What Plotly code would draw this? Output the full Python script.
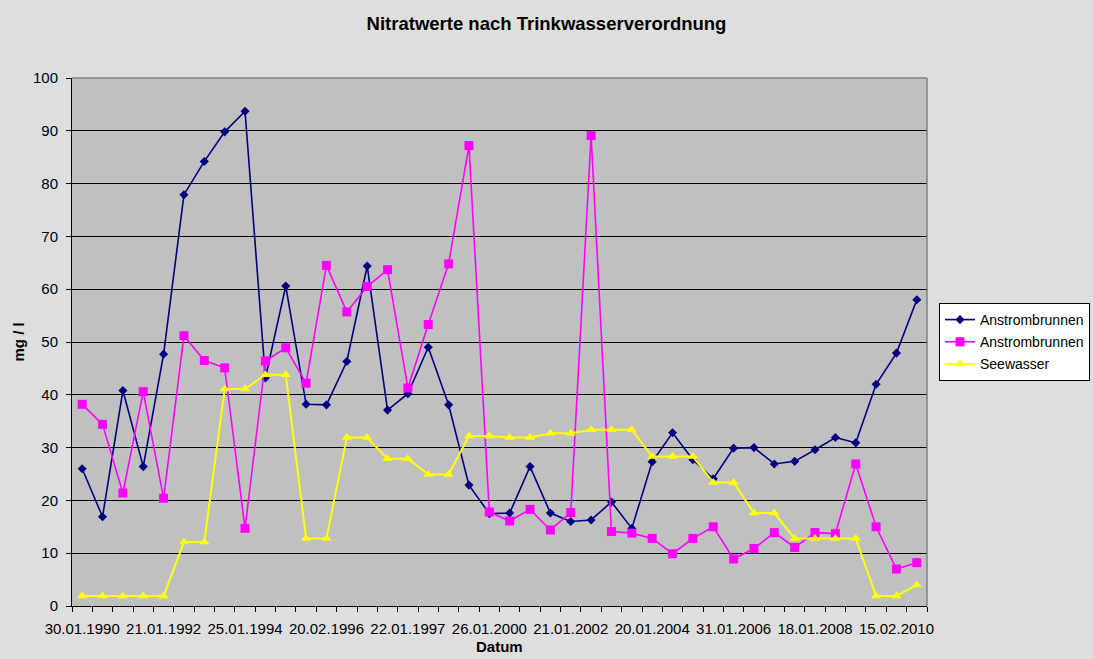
import plotly.graph_objects as go

# ---- data ----
tick_labels = ["30.01.1990", "21.01.1992", "25.01.1994", "20.02.1996", "22.01.1997",
               "26.01.2000", "21.01.2002", "20.01.2004", "31.01.2006", "18.01.2008",
               "15.02.2010"]
tick_index = [0, 4, 8, 12, 16, 20, 24, 28, 32, 36, 40]

anstrom1 = [26.0, 16.9, 40.8, 26.4, 47.7, 77.9, 84.2, 89.8, 93.7, 43.2, 60.6,
            38.2, 38.1, 46.3, 64.4, 37.1, 40.2, 49.0, 38.1, 22.9, 17.5,
            17.6, 26.4, 17.6, 16.0, 16.3, 19.7, 14.7, 27.3, 32.8, 27.7, 24.1,
            29.9, 30.0, 26.9, 27.4, 29.6, 31.9, 30.9, 42.0, 47.9, 58.0]
anstrom2 = [38.2, 34.4, 21.4, 40.6, 20.4, 51.2, 46.5, 45.1, 14.7, 46.4, 48.9,
            42.2, 64.5, 55.7, 60.5, 63.7, 41.3, 53.3, 64.8, 87.2, 17.8,
            16.1, 18.3, 14.4, 17.7, 89.1, 14.1, 13.8, 12.8, 9.9, 12.8, 15.0,
            8.9, 10.9, 13.9, 11.1, 13.9, 13.7, 26.9, 15.0, 7.0, 8.2]
seewasser = [1.9, 1.9, 1.9, 1.9, 1.9, 12.1, 12.1, 41.1, 41.1, 43.8, 43.8,
             12.8, 12.8, 31.9, 31.9, 27.9, 27.9, 24.9, 24.9, 32.2, 32.2,
             31.9, 31.9, 32.7, 32.7, 33.4, 33.4, 33.4, 28.3, 28.3, 28.3, 23.4,
             23.4, 17.6, 17.6, 12.8, 12.8, 12.8, 12.8, 1.9, 1.9, 4.0]
series_names = ["Anstrombrunnen", "Anstrombrunnen", "Seewasser"]

idx = list(range(len(anstrom1)))
n = len(idx)

W, H = 1093, 659
L, R, T, B = 72, 166, 78, 53
pw, ph = W - L - R, H - T - B

fig = go.Figure()
fig.add_trace(go.Scatter(
    x=idx, y=anstrom1, mode="lines+markers", name=series_names[0], legendgroup="g1",
    line=dict(color="#000080", width=1.6),
    marker=dict(symbol="diamond", size=7, color="#000080")))
fig.add_trace(go.Scatter(
    x=idx, y=anstrom2, mode="lines+markers", name=series_names[1], legendgroup="g2",
    line=dict(color="#FF00FF", width=1.6),
    marker=dict(symbol="square", size=9, color="#FF00FF")))
fig.add_trace(go.Scatter(
    x=idx, y=seewasser, mode="lines+markers", name=series_names[2], legendgroup="g3",
    line=dict(color="#FFFF00", width=2),
    marker=dict(symbol="triangle-up", size=9, color="#FFFF00")))

font_family = "Liberation Sans, Arial, sans-serif"

fig.update_layout(
    width=W, height=H,
    paper_bgcolor="#DEDEDE", plot_bgcolor="#C0C0C0",
    margin=dict(l=L, r=R, t=T, b=B, autoexpand=False),
    font=dict(family=font_family, color="black", size=15),
    title=dict(text="<b>Nitratwerte nach Trinkwasserverordnung</b>",
               x=0.5, xref="container", xanchor="center",
               y=1 - 24 / H, yref="container", yanchor="middle",
               font=dict(size=18.5, color="black")),
    legend=dict(x=(939 - L) / pw, y=(H - B - 303) / ph, xanchor="left", yanchor="top",
                bgcolor="white", bordercolor="black", borderwidth=1,
                font=dict(size=14, color="black"),
                traceorder="grouped", tracegroupgap=1),
    xaxis=dict(range=[-0.5, n - 0.5], tickmode="array", tickvals=tick_index,
               ticktext=tick_labels, ticks="", showline=True, linecolor="black",
               linewidth=1, showgrid=False, zeroline=False, ticklabelstandoff=9,
               tickfont=dict(size=15, color="black"),
               minor=dict(ticks="outside", ticklen=5, tickcolor="black", tickwidth=1,
                          tickmode="array", tickvals=[i - 0.5 for i in range(n + 1)],
                          showgrid=False)),
    yaxis=dict(range=[0, 100], tickmode="linear", tick0=0, dtick=10,
               ticks="outside", ticklen=5, tickcolor="black", showline=True,
               linecolor="black", linewidth=1, showgrid=True, gridcolor="black",
               gridwidth=1, zeroline=False, ticklabelstandoff=5,
               tickfont=dict(size=15, color="black")),
    shapes=[
        dict(type="line", xref="paper", yref="paper", x0=0, x1=1, y0=1, y1=1,
             line=dict(color="#808080", width=1.5), layer="above"),
        dict(type="line", xref="paper", yref="paper", x0=1, x1=1, y0=0, y1=1,
             line=dict(color="#808080", width=1.5), layer="above"),
    ],
    annotations=[
        dict(text="<b>mg / l</b>", xref="paper", yref="paper", x=0, xshift=17.5 - L,
             y=0.5, xanchor="center", yanchor="middle", textangle=-90,
             showarrow=False, font=dict(size=15, color="black")),
        dict(text="<b>Datum</b>", xref="paper", yref="paper", x=0.5,
             y=(H - B - 646.7) / ph, xanchor="center", yanchor="middle",
             showarrow=False, font=dict(size=15, color="black")),
    ],
)

fig.write_html("out.html", config={"displayModeBar": False},
               post_script="document.body.style.margin='0';document.body.style.padding='0';")
